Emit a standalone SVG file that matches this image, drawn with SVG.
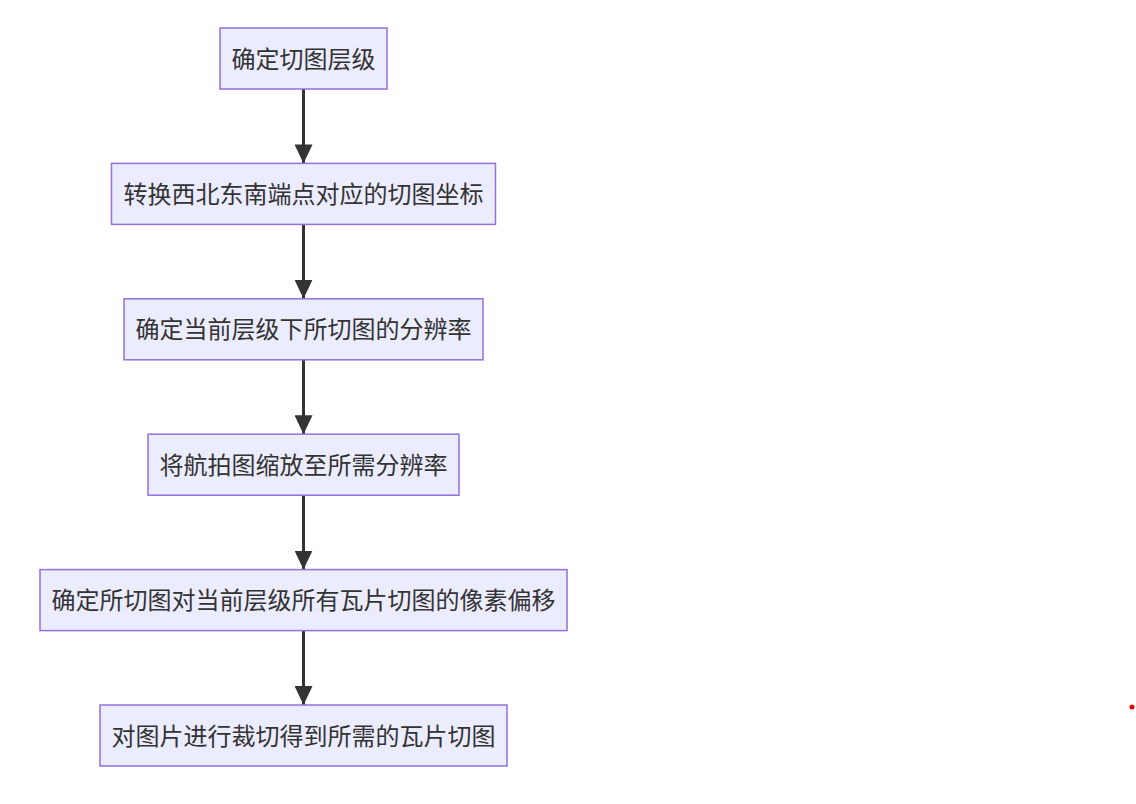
<svg xmlns="http://www.w3.org/2000/svg" width="1136" height="804" viewBox="0 0 1136 804">
<style>
.box{fill:#ECECFF;stroke:#9370DB;stroke-width:1.5}
.lbl{font-family:"Liberation Sans","Noto Sans CJK SC",sans-serif;font-size:24px;fill:#333;text-anchor:middle}
.edge{stroke:#333;stroke-width:3;fill:none}
</style>
<defs>
<marker id="arr" markerUnits="userSpaceOnUse" markerWidth="20" markerHeight="18" refX="19" refY="9" orient="auto">
<path d="M0,0 L19,9 L0,18 z" fill="#333"/>
</marker>
</defs>
<rect width="1136" height="804" fill="#fff"/>
<g id="connectors">
<line class="edge" x1="303.5" y1="89" x2="303.5" y2="163.4" marker-end="url(#arr)"/>
<line class="edge" x1="303.5" y1="224.4" x2="303.5" y2="298.8" marker-end="url(#arr)"/>
<line class="edge" x1="303.5" y1="359.8" x2="303.5" y2="434.2" marker-end="url(#arr)"/>
<line class="edge" x1="303.5" y1="495.2" x2="303.5" y2="569.6" marker-end="url(#arr)"/>
<line class="edge" x1="303.5" y1="630.6" x2="303.5" y2="705" marker-end="url(#arr)"/>
</g>
<g id="n1"><rect class="box" x="220" y="28" width="167" height="61"/><text class="lbl" x="303.5" y="67.5">确定切图层级</text></g>
<g id="n2"><rect class="box" x="111.5" y="163.4" width="384" height="61"/><text class="lbl" x="303.5" y="202.9">转换西北东南端点对应的切图坐标</text></g>
<g id="n3"><rect class="box" x="124" y="298.8" width="359" height="61"/><text class="lbl" x="303.5" y="338.3">确定当前层级下所切图的分辨率</text></g>
<g id="n4"><rect class="box" x="148" y="434.2" width="311" height="61"/><text class="lbl" x="303.5" y="473.7">将航拍图缩放至所需分辨率</text></g>
<g id="n5"><rect class="box" x="40" y="569.6" width="527" height="61"/><text class="lbl" x="303.5" y="609.1">确定所切图对当前层级所有瓦片切图的像素偏移</text></g>
<g id="n6"><rect class="box" x="100" y="705" width="407" height="61"/><text class="lbl" x="303.5" y="744.5">对图片进行裁切得到所需的瓦片切图</text></g>
<circle cx="1132" cy="707" r="2.5" fill="#e00000"/>
</svg>
